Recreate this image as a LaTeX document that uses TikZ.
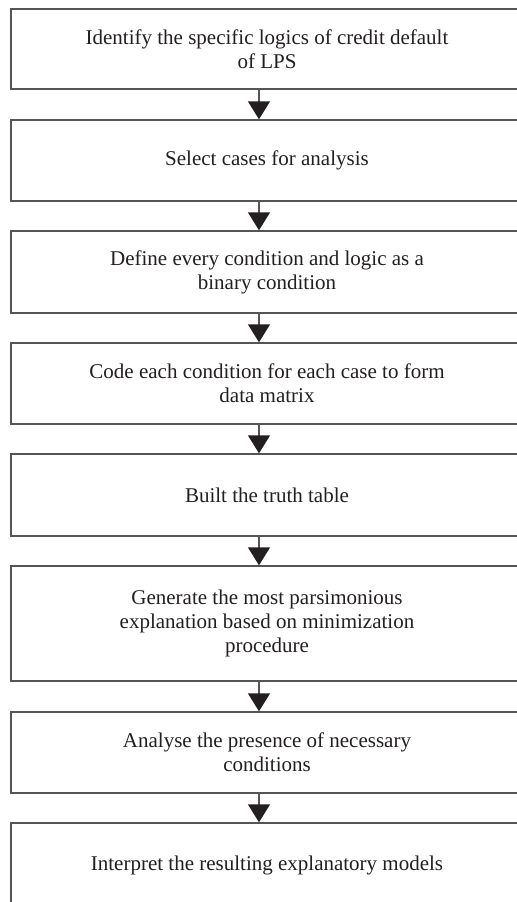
\documentclass[tikz,border=0pt]{standalone}
\usepackage{fontspec}
\setmainfont{Liberation Serif}
\usetikzlibrary{arrows.meta}
\definecolor{trait}{HTML}{555555}
\definecolor{encre}{HTML}{231F20}

\begin{document}
\begin{tikzpicture}[x=0.5pt,y=-0.5pt]
        \clip (0,0) rectangle (517,902);
        \fill[white] (0,0) rectangle (517,902);
        \tikzset{etape/.style={draw=trait,line width=0.7pt,minimum width=256pt,text=encre,
          align=center,font=\fontsize{10.5}{12}\selectfont,inner sep=0pt}}
        \node[etape,minimum height=40pt] (ID) at (267,49) {Identify the specific logics of credit default\\of LPS};
        \node[etape,minimum height=40.5pt] (SC) at (267,160.5) {Select cases for analysis};
        \node[etape,minimum height=41pt] (DC) at (267,272) {Define every condition and logic as a\\binary condition};
        \node[etape,minimum height=40.5pt] (CD) at (267,383.5) {Code each condition for each case to form\\data matrix};
        \node[etape,minimum height=41pt] (TT) at (267,495) {Built the truth table};
        \node[etape,minimum height=57.5pt] (GE) at (267,623.5) {Generate the most parsimonious\\explanation based on minimization\\procedure};
        \node[etape,minimum height=40.5pt] (AP) at (267,752.5) {Analyse the presence of necessary\\conditions};
        \node[etape,minimum height=42pt] (IM) at (267,865) {Interpret the resulting explanatory models};
        \tikzset{fleche/.style={-{Triangle[width=11pt,length=9pt,color=encre,fill=encre]},
          draw=trait,line width=0.7pt}}
        \draw[fleche] ([xshift=-4pt]ID.south) -- ([xshift=-4pt]SC.north);
        \draw[fleche] ([xshift=-4pt]SC.south) -- ([xshift=-4pt]DC.north);
        \draw[fleche] ([xshift=-4pt]DC.south) -- ([xshift=-4pt]CD.north);
        \draw[fleche] ([xshift=-4pt]CD.south) -- ([xshift=-4pt]TT.north);
        \draw[fleche] ([xshift=-4pt]TT.south) -- ([xshift=-4pt]GE.north);
        \draw[fleche] ([xshift=-4pt]GE.south) -- ([xshift=-4pt]AP.north);
        \draw[fleche] ([xshift=-4pt]AP.south) -- ([xshift=-4pt]IM.north);
\end{tikzpicture}
\end{document}
